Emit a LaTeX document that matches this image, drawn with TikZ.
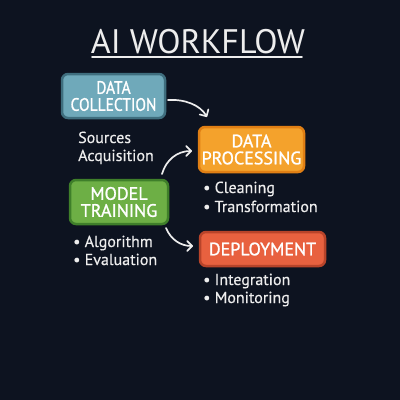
\documentclass[tikz,border=0pt]{standalone}
\usepackage{fontspec}
\setmainfont{PT Sans}
\newfontfamily\hand[FakeBold=1.2]{PT Sans}
\newfontfamily\handn[FakeBold=1.2,FakeStretch=0.86]{PT Sans}
\newfontfamily\body[FakeBold=0.4]{PT Sans}
\usetikzlibrary{arrows.meta}
\definecolor{bg}{HTML}{0D1320}
\definecolor{txt}{HTML}{EDEDED}
\definecolor{bluef}{HTML}{6FA9BA}
\definecolor{blued}{HTML}{3F6E7E}
\definecolor{orangef}{HTML}{F4A22C}
\definecolor{oranged}{HTML}{E07F14}
\definecolor{greenf}{HTML}{6DAF45}
\definecolor{greend}{HTML}{3F7F2A}
\definecolor{redf}{HTML}{E8613F}
\definecolor{redd}{HTML}{B8442A}
\tikzset{
  boxshape/.style={rounded corners=6pt, line width=2.5pt},
  stepbox/.style={text=white, align=center,
    font=\hand\fontsize{18}{18}\selectfont, inner sep=0pt},
  bullet/.style={text=txt, anchor=base west, inner sep=0pt,
    font=\body\fontsize{16}{19}\selectfont},
  flow/.style={draw=txt, line width=1.7pt, line cap=round,
    -{Straight Barb[length=5pt,width=10pt,line cap=round,line join=round]}}
}
\begin{document}
\begin{tikzpicture}[x=1pt,y=-1pt]
\fill[bg] (0,0) rectangle (400,400);
\useasboundingbox (0,0) rectangle (400,400);
% title
\node[text=txt, anchor=base, inner sep=0pt, font=\fontsize{34}{34}\selectfont] (title) at (198,53) {AI WORKFLOW};
\coordinate (ul1) at (92,57);
\coordinate (ul2) at (302,57);
\draw[txt, line width=1.6pt, line cap=round] (ul1) -- (ul2);
% boxes
\draw[boxshape, fill=bluef, draw=blued] (62,74) rectangle (165,118);
\node[stepbox, font=\handn\fontsize{18}{18}\selectfont] (dc) at (113.5,96) {DATA\\[-1pt]COLLECTION};
\draw[boxshape, fill=orangef, draw=oranged] (199,127) rectangle (304,172);
\node[stepbox] (dp) at (251.5,149.5) {DATA\\[-1pt]PROCESSING};
\draw[boxshape, fill=greenf, draw=greend] (70,180) rectangle (168,224);
\node[stepbox] (mt) at (119,202) {MODEL\\[-1pt]TRAINING};
\draw[boxshape, fill=redf, draw=redd] (200,232) rectangle (325,266);
\node[stepbox] (dep) at (262.5,249) {DEPLOYMENT};
% text lists
\node[bullet] (src1) at (78,143) {Sources};
\node[bullet] (src2) at (78,161) {Acquisition};
\node[bullet] (dp1) at (203,193) {• Cleaning};
\node[bullet] (dp2) at (203,212) {• Transformation};
\node[bullet] (mt1) at (73,247) {• Algorithm};
\node[bullet] (mt2) at (73,265) {• Evaluation};
\node[bullet] (de1) at (203,285) {• Integration};
\node[bullet] (de2) at (203,303) {• Monitoring};
% arrows
\coordinate (a1s) at (168,100);
\coordinate (a1e) at (207,117);
\coordinate (a2s) at (162,174);
\coordinate (a2e) at (192,151);
\coordinate (a3s) at (166,228);
\coordinate (a3e) at (193,246);
\draw[flow] (a1s) .. controls (185,99) and (200,105) .. (a1e);
\draw[flow] (a2s) .. controls (166,160) and (177,151) .. (a2e);
\draw[flow] (a3s) .. controls (171,240) and (181,246) .. (a3e);
\end{tikzpicture}
\end{document}
